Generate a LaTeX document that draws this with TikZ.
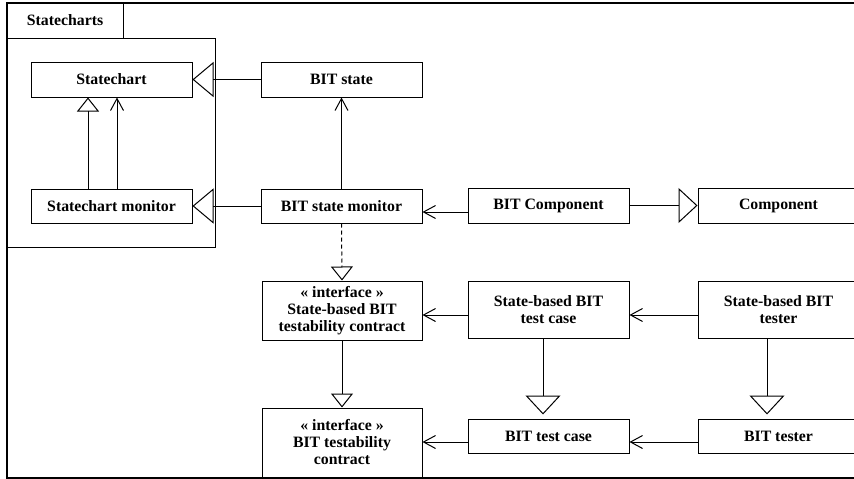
\documentclass[tikz,border=0pt]{standalone}
\usepackage{fontspec}
\setmainfont{Liberation Serif}
\usetikzlibrary{arrows.meta}
\begin{document}
\begin{tikzpicture}[x=1pt,y=-1pt,
  box/.style={draw,line width=1pt,inner sep=0pt,align=center,
    font=\fontsize{15.8}{17}\selectfont\bfseries},
  conn/.style={line width=1pt},
  genbig/.style={conn,-{Triangle[open,length=21pt,width=35pt,line width=1pt]}},
  gensmall/.style={conn,-{Triangle[open,length=14pt,width=22pt,line width=1pt]}},
  genmid/.style={conn,-{Triangle[open,length=19pt,width=35pt,line width=1pt]},shorten >=4pt},
  nav/.style={conn,-{Straight Barb[length=12pt,width=13pt,line width=1pt]}}
]
\clip (0,0) rectangle (854,479);
\fill[white] (0,0) rectangle (854,479);
% outer frame
\draw[line width=2pt] (7,3) rectangle (880,478);
% package
\node[box,minimum width=116pt,minimum height=35pt] (tab) at (65,20.5) {Statecharts};
\node[draw,line width=1pt,inner sep=0pt,minimum width=208pt,minimum height=209pt] (pkg) at (111,142.5) {};
% classes
\node[box,minimum width=161pt,minimum height=35pt] (SC) at (111.5,79.5) {Statechart};
\node[box,minimum width=161pt,minimum height=35pt] (BS) at (341.5,79.5) {BIT state};
\node[box,minimum width=161pt,minimum height=34pt] (SCM) at (111.5,206) {Statechart monitor};
\node[box,minimum width=161pt,minimum height=34pt] (BSM) at (341.5,206) {BIT state monitor};
\node[box,minimum width=161pt,minimum height=35pt] (BC) at (548.5,205.5) {BIT Component};
\node[box,minimum width=161pt,minimum height=35pt] (C) at (778.5,205.5) {Component};
\node[box,minimum width=160pt,minimum height=59pt] (I1) at (342,310.5) {« interface »\\State-based BIT\\testability contract};
\node[box,minimum width=161pt,minimum height=57pt] (SBTC) at (548.5,309.5) {State-based BIT\\test case};
\node[box,minimum width=161pt,minimum height=57pt] (SBT) at (778.5,309.5) {State-based BIT\\tester};
\node[box,minimum width=160pt,minimum height=69pt] (I2) at (342,442.5) {« interface »\\BIT testability\\contract};
\node[box,minimum width=161pt,minimum height=34pt] (BTC) at (548.5,436) {BIT test case};
\node[box,minimum width=161pt,minimum height=34pt] (BT) at (778.5,436) {BIT tester};
% connectors
\draw[genbig] (BS.west) -- (SC.east);
\draw[genbig] (BSM.west) -- (SCM.east);
\draw[gensmall] ([xshift=-23.5pt]SCM.north) -- ([xshift=-23.5pt]SC.south);
\draw[nav] ([xshift=5.5pt]SCM.north) -- ([xshift=5.5pt]SC.south);
\draw[nav] (BSM.north) -- (BS.south);
\draw[nav] ([yshift=-6.5pt]BC.west) -- ([yshift=-6.5pt]BC.west -| BSM.east);
\draw[genmid,shorten >=0pt] (BC.east) -- (C.west);
\draw[gensmall,dash pattern=on 4pt off 3pt] (BSM.south) -- (I1.north);
\draw[gensmall] (I1.south) -- (I2.north);
\draw[genmid] ([xshift=-5.5pt]SBTC.south) -- ([xshift=-5.5pt]BTC.north);
\draw[genmid] ([xshift=-11.5pt]SBT.south) -- ([xshift=-11.5pt]BT.north);
\draw[nav] ([yshift=-5.5pt]SBT.west) -- ([yshift=-5.5pt]SBT.west -| SBTC.east);
\draw[nav] ([yshift=-5.5pt]SBTC.west) -- ([yshift=-5.5pt]SBTC.west -| I1.east);
\draw[nav] ([yshift=-6pt]BT.west) -- ([yshift=-6pt]BT.west -| BTC.east);
\draw[nav] ([yshift=-6pt]BTC.west) -- ([yshift=-6pt]BTC.west -| I2.east);
\end{tikzpicture}
\end{document}
